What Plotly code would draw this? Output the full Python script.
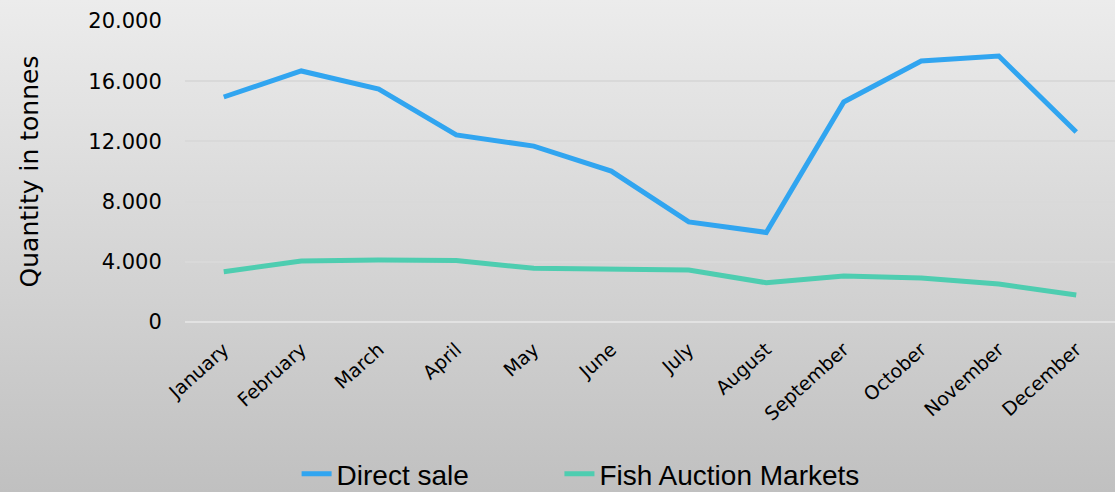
import base64
import plotly.graph_objects as go

months = ['January', 'February', 'March', 'April', 'May', 'June', 'July',
          'August', 'September', 'October', 'November', 'December']
direct_sale = [14950, 16680, 15480, 12430, 11690, 10030, 6650, 5950,
               14620, 17340, 17670, 12630]
fish_auction = [3340, 4050, 4120, 4080, 3570, 3520, 3460, 2610,
                3060, 2920, 2520, 1790]

W, H = 1115, 492
ml, mr, mt, mb = 185, 0, 21, 170

# grey gradient backdrop like the slide
svg = ('<svg xmlns="http://www.w3.org/2000/svg" width="100" height="100" preserveAspectRatio="none">'
       '<defs><linearGradient id="g" x1="0" y1="0" x2="0" y2="1">'
       '<stop offset="0" stop-color="#ececec"/><stop offset="1" stop-color="#c0c0c0"/>'
       '</linearGradient></defs><rect width="100" height="100" fill="url(#g)"/></svg>')
bg_src = 'data:image/svg+xml;base64,' + base64.b64encode(svg.encode()).decode()

pw, ph = W - ml - mr, H - mt - mb

fig = go.Figure()
# nbsp padding widens the gap between the two legend entries
fig.add_trace(go.Scatter(x=months, y=direct_sale, mode='lines', name='Direct sale' + '\u00a0' * 11,
                         line=dict(color='#31a5f0', width=5)))
fig.add_trace(go.Scatter(x=months, y=fish_auction, mode='lines', name='Fish Auction Markets',
                         line=dict(color='#4ecdb0', width=5)))

fig.update_layout(
    width=W, height=H,
    margin=dict(l=ml, r=mr, t=mt, b=mb, autoexpand=False),
    paper_bgcolor='#d8d8d8',
    plot_bgcolor='rgba(0,0,0,0)',
    separators=',.',
    font=dict(family='DejaVu Sans, sans-serif', color='black'),
    images=[dict(source=bg_src, xref='paper', yref='paper',
                 x=-ml / pw, y=1 + mt / ph, sizex=W / pw, sizey=H / ph,
                 xanchor='left', yanchor='top', sizing='stretch', layer='below')],
    showlegend=True,
    legend=dict(orientation='h', x=0.12, xanchor='left', y=(322 - 474) / ph,
                yanchor='middle',
                font=dict(size=28, family='Liberation Sans Narrow, Liberation Sans, sans-serif'),
                bgcolor='rgba(0,0,0,0)'),
    xaxis=dict(tickangle=-42, tickfont=dict(size=19), showgrid=False, showline=False,
               ticks='outside', ticklen=8, tickcolor='rgba(0,0,0,0)', range=[-0.5, 11.5]),
    yaxis=dict(range=[0, 20000], dtick=4000, tickformat=',.0f', tickfont=dict(size=21),
               gridcolor='#d9d9d9', gridwidth=1.5, zeroline=True, zerolinecolor='#e2e2e2',
               zerolinewidth=1.5, ticks='outside', ticklen=18, tickcolor='rgba(0,0,0,0)',
               title=dict(text='Quantity in tonnes', font=dict(size=25), standoff=42)),
)

fig.write_html("out.html", config={'displayModeBar': False},
               post_script="document.body.style.margin='0';document.body.style.overflow='hidden';")
